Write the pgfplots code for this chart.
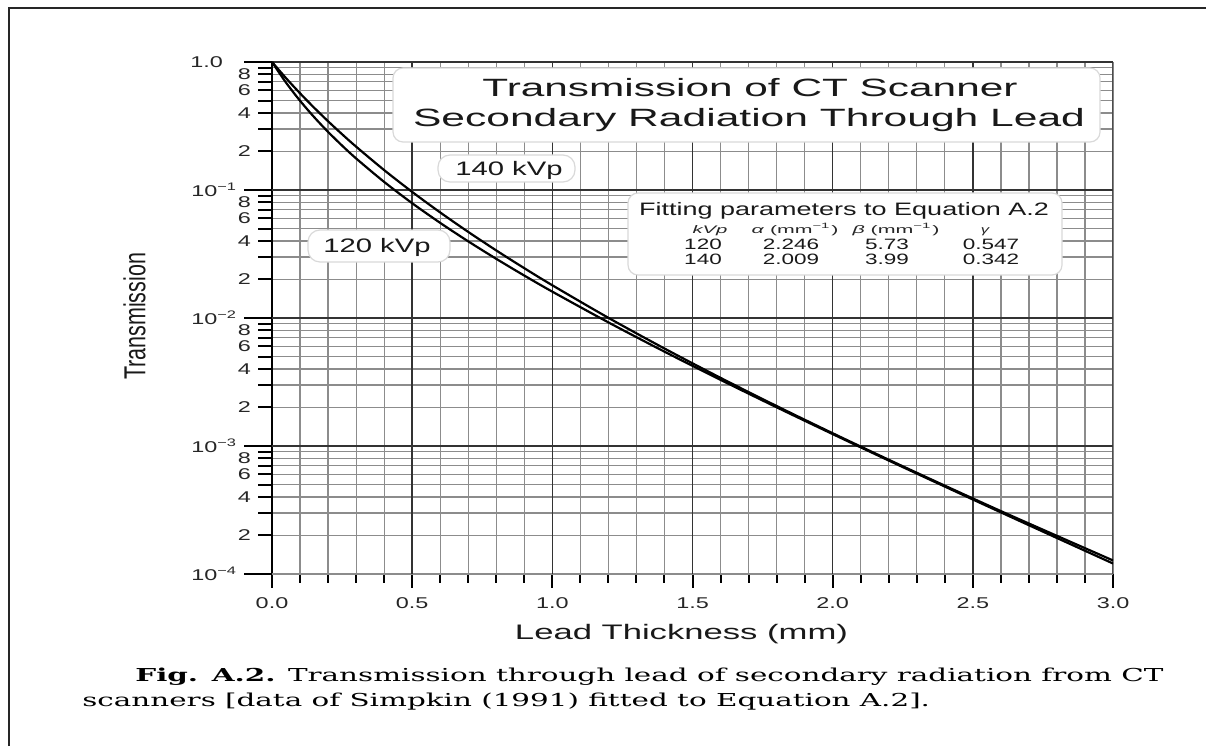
\documentclass[border=0pt]{standalone}
\usepackage{pgfplots}
\pgfplotsset{compat=1.18}
\usepackage{fontspec}
\usepackage{graphicx}
\setmainfont{Liberation Sans}
\newfontfamily\sw{Liberation Sans}[FakeStretch=1.5]
\newfontfamily\capfont{DejaVu Serif}
\newlength\px \setlength\px{0.5bp}
\newsavebox\capA
\newlength\capw
\pgfplotstableread{
x t
0 1
0.05 0.6900
0.1 0.4980
0.15 0.3716
0.2 0.2844
0.25 0.2222
0.3 0.1764
0.4 0.11569
0.5 0.07884
0.6 0.05534
0.7 0.03969
0.8 0.02898
0.9 0.02145
1.0 0.01606
1.2 0.00924
1.4 0.005458
1.6 0.003287
1.8 0.002007
2.0 0.001239
2.2 0.000770
2.4 0.000482
2.6 0.000303
2.8 0.0001911
3.0 0.0001208
}\kvpA
\pgfplotstableread{
x t
0 1
0.05 0.7481
0.1 0.5694
0.15 0.4400
0.2 0.3444
0.25 0.2727
0.3 0.2181
0.4 0.1431
0.5 0.09661
0.6 0.06676
0.7 0.04705
0.8 0.03371
0.9 0.02449
1.0 0.01801
1.2 0.01003
1.4 0.005775
1.6 0.003407
1.8 0.002053
2.0 0.001258
2.2 0.000781
2.4 0.000490
2.6 0.000310
2.8 0.0001986
3.0 0.0001276
}\kvpB
\begin{document}%
\sbox\capA{\capfont\fontsize{8.9bp}{11bp}\selectfont\textbf{Fig. A.2.} Transmission through lead of secondary radiation from CT}%
\setlength\capw{\wd\capA}%
\pgfmathsetmacro\capsx{515.93/\capw}%
\begin{tikzpicture}[x=0.5bp,y=0.5bp]
\useasboundingbox (0,0) rectangle (1206,746);
\coordinate (axSW) at (272,172);
\draw[line width=1.1bp, black!85] (9,0) -- (9,738) -- (1206,738);
\begin{axis}[
  at={(axSW)}, anchor=south west, scale only axis,
  width=420.5bp, height=256bp,
  xmin=0, xmax=3, ymin=1e-4, ymax=1, ymode=log,
  axis x line*=bottom, axis y line*=left,
  axis line style={-, line width=1.2bp, black},
  tick align=outside,
  major tick length=7bp, minor tick length=4.5bp,
  tick style={line width=1bp, black},
  xtick={0,0.5,1,1.5,2,2.5,3},
  xticklabels={0.0,0.5,1.0,1.5,2.0,2.5,3.0},
  minor x tick num=4,
  ytick={2e-4,3e-4,4e-4,5e-4,6e-4,7e-4,8e-4,9e-4,
         2e-3,3e-3,4e-3,5e-3,6e-3,7e-3,8e-3,9e-3,
         2e-2,3e-2,4e-2,5e-2,6e-2,7e-2,8e-2,9e-2,
         2e-1,3e-1,4e-1,5e-1,6e-1,7e-1,8e-1,9e-1},
  yticklabels={2,{},4,{},6,{},8,{},2,{},4,{},6,{},8,{},2,{},4,{},6,{},8,{},2,{},4,{},6,{},8,{}},
  extra y ticks={1e-4,1e-3,1e-2,1e-1,1},
  extra y tick labels={10\textsuperscript{−4},10\textsuperscript{−3},10\textsuperscript{−2},10\textsuperscript{−1},1.0\kern7bp},
  extra y tick style={major tick length=14bp},
  xmajorgrids, xminorgrids, ymajorgrids,
  major grid style={line width=0.6bp, black!45},
  minor grid style={line width=0.6bp, black!45},
  tick label style={font=\sw\fontsize{7.8bp}{9bp}\selectfont, text=black!85},
  xticklabel style={yshift=-1.5bp},
]
\draw[line width=0.8bp, black!80] (axis cs:0.5,1e-4) -- (axis cs:0.5,1);
\draw[line width=0.8bp, black!80] (axis cs:1,1e-4) -- (axis cs:1,1);
\draw[line width=0.8bp, black!80] (axis cs:1.5,1e-4) -- (axis cs:1.5,1);
\draw[line width=0.8bp, black!80] (axis cs:2,1e-4) -- (axis cs:2,1);
\draw[line width=0.8bp, black!80] (axis cs:2.5,1e-4) -- (axis cs:2.5,1);
\draw[line width=0.8bp, black!70] (axis cs:3,1e-4) -- (axis cs:3,1);
\draw[line width=0.8bp, black!80] (axis cs:0,1e-3) -- (axis cs:3,1e-3);
\draw[line width=0.8bp, black!80] (axis cs:0,1e-2) -- (axis cs:3,1e-2);
\draw[line width=0.8bp, black!80] (axis cs:0,1e-1) -- (axis cs:3,1e-1);
\draw[line width=0.8bp, black!80] (axis cs:0,1) -- (axis cs:3,1);
\addplot[black, line width=1.1bp, smooth] table[x=x,y=t] {\kvpA};
\addplot[black, line width=1.1bp, smooth] table[x=x,y=t] {\kvpB};
\end{axis}
% title box
\draw[rounded corners=5bp, draw=black!15, fill=white, line width=0.6bp] (393,678) rectangle (1100,604);
\node[anchor=base, inner sep=0pt, text=black!90] at (750,649) {\resizebox{535\px}{\height}{\fontsize{12.5bp}{15bp}\selectfont Transmission of CT Scanner}};
\node[anchor=base, inner sep=0pt, text=black!90] at (749,619) {\resizebox{672\px}{\height}{\fontsize{12.5bp}{15bp}\selectfont Secondary Radiation Through Lead}};
% kVp labels
\draw[rounded corners=6bp, draw=black!15, fill=white, line width=0.6bp] (438,591) rectangle (575,564);
\node[anchor=base, inner sep=0pt, text=black!90] at (509,570) {\sw\fontsize{9.75bp}{12bp}\selectfont 140 kVp};
\draw[rounded corners=6bp, draw=black!15, fill=white, line width=0.6bp] (308,516) rectangle (450,484);
\node[anchor=base, inner sep=0pt, text=black!90] at (377,493) {\sw\fontsize{9.75bp}{12bp}\selectfont 120 kVp};
% fitting parameters
\draw[rounded corners=5bp, draw=black!15, fill=white, line width=0.6bp] (628,553) rectangle (1062,471);
\node[anchor=base, inner sep=0pt, text=black!90] at (844,530) {\sw\fontsize{9bp}{11bp}\selectfont Fitting parameters to Equation A.2};
\node[anchor=base, inner sep=0pt, text=black!85] at (710,512) {\resizebox{35\px}{\height}{\fontsize{5.5bp}{6bp}\selectfont\itshape kVp}};
\node[anchor=base, inner sep=0pt, text=black!85] at (795,512) {\resizebox{87\px}{\height}{\fontsize{5.5bp}{6bp}\selectfont\textit{α} (mm\textsuperscript{−1})}};
\node[anchor=base, inner sep=0pt, text=black!85] at (896,512) {\resizebox{87\px}{\height}{\fontsize{5.5bp}{6bp}\selectfont\textit{β} (mm\textsuperscript{−1})}};
\node[anchor=base, inner sep=0pt, text=black!85] at (985,512) {\sw\fontsize{5.5bp}{6bp}\selectfont\itshape γ};
\node[anchor=base, inner sep=0pt, text=black!90] at (703,496) {\sw\fontsize{7.5bp}{9bp}\selectfont 120};
\node[anchor=base, inner sep=0pt, text=black!90] at (791,496) {\sw\fontsize{7.5bp}{9bp}\selectfont 2.246};
\node[anchor=base, inner sep=0pt, text=black!90] at (887,496) {\sw\fontsize{7.5bp}{9bp}\selectfont 5.73};
\node[anchor=base, inner sep=0pt, text=black!90] at (991,496) {\sw\fontsize{7.5bp}{9bp}\selectfont 0.547};
\node[anchor=base, inner sep=0pt, text=black!90] at (703,481) {\sw\fontsize{7.5bp}{9bp}\selectfont 140};
\node[anchor=base, inner sep=0pt, text=black!90] at (791,481) {\sw\fontsize{7.5bp}{9bp}\selectfont 2.009};
\node[anchor=base, inner sep=0pt, text=black!90] at (887,481) {\sw\fontsize{7.5bp}{9bp}\selectfont 3.99};
\node[anchor=base, inner sep=0pt, text=black!90] at (991,481) {\sw\fontsize{7.5bp}{9bp}\selectfont 0.342};
% axis labels
\node[anchor=base, inner sep=0pt, text=black!90] at (681.5,107) {\resizebox{333\px}{\height}{\fontsize{10.5bp}{12bp}\selectfont Lead Thickness (mm)}};
\node[rotate=90, inner sep=0pt, text=black!90] at (134.5,429.5) {\resizebox{127\px}{22\px}{\fontsize{10.5bp}{12bp}\selectfont Transmission}};
% caption
\node[anchor=base west, inner sep=0pt] at (135,65) {\scalebox{\capsx}[1]{\usebox\capA}};
\node[anchor=base west, inner sep=0pt] at (82,40) {\scalebox{\capsx}[1]{\capfont\fontsize{8.9bp}{11bp}\selectfont scanners [data of Simpkin (1991) fitted to Equation A.2].}};
\end{tikzpicture}%
\end{document}
